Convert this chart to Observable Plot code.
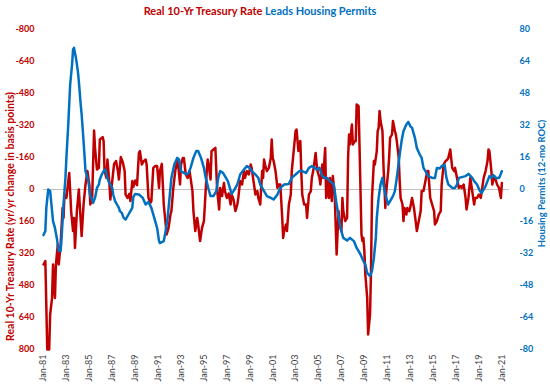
<!DOCTYPE html>
<html><head><meta charset="utf-8">
<script src="https://cdn.jsdelivr.net/npm/d3@7"></script>
<script src="https://cdn.jsdelivr.net/npm/@observablehq/plot@0.6"></script>
<style>
body{margin:0;background:#fff;font-family:Lato,sans-serif;}
#title{height:20px;width:520px;text-align:center;font-weight:bold;font-size:11px;line-height:22px;white-space:nowrap;}
</style></head><body>
<div id="title"><span style="color:#C00000">Real 10-Yr Treasury Rate</span> <span style="color:#0070C0">Leads Housing Permits</span></div>
<div id="chart"></div>
<script>
// [months since Jan-81, yr/yr change in basis points]
const redPoints = [[0,375],[2,358],[4,800],[6,800],[7,625],[9,542],[10,375],[12,542],[13,375],[15,275],[16,375],[18,275],[20,92],[21,142],[22,25],[24,42],[25,0],[27,-83],[28,8],[29,108],[31,208],[32,142],[33,292],[35,108],[37,0],[38,75],[40,233],[42,75],[44,-25],[46,-92],[48,-25],[49,75],[51,42],[53,-295],[54,-208],[56,-100],[58,-108],[59,-250],[62,-262],[63,-242],[64,-92],[66,-58],[67,-150],[69,-33],[70,50],[72,-42],[74,-128],[76,-142],[78,-92],[79,-50],[81,-162],[83,-138],[85,-92],[86,25],[88,42],[90,22],[91,58],[93,-42],[94,-12],[96,-45],[98,-22],[100,-183],[101,-192],[103,-125],[105,-142],[107,-150],[108,-125],[110,42],[112,67],[113,58],[115,-108],[117,-117],[119,-117],[121,-8],[122,-92],[124,-128],[125,-25],[126,75],[128,175],[129,225],[131,192],[133,125],[134,108],[136,-8],[138,-92],[140,-142],[141,-125],[143,-25],[144,-125],[146,-158],[147,-158],[149,-75],[151,-58],[153,-92],[154,-58],[156,8],[157,108],[159,208],[161,142],[162,175],[164,258],[166,192],[168,158],[169,75],[171,-92],[172,-150],[173,-125],[175,-50],[176,-192],[178,-200],[180,-208],[181,-92],[182,8],[184,100],[185,-8],[187,33],[189,-33],[190,8],[192,42],[194,20],[196,75],[197,25],[199,50],[201,108],[203,75],[204,42],[206,-42],[208,-25],[210,-92],[211,-58],[213,-92],[215,-75],[217,-125],[218,-108],[220,-42],[222,25],[224,8],[225,42],[227,75],[229,-92],[230,-58],[231,-150],[232,-125],[234,-92],[236,-108],[238,-158],[239,-250],[240,-158],[241,-142],[243,-92],[245,-8],[246,-25],[248,-25],[250,142],[251,242],[252,208],[254,175],[255,208],[257,75],[259,25],[260,-92],[262,-192],[264,-292],[265,-300],[267,-192],[269,-242],[270,-92],[271,25],[273,75],[275,75],[276,142],[278,25],[280,8],[281,-58],[283,-108],[285,-183],[286,-125],[287,-92],[289,-58],[290,-25],[292,-125],[293,-58],[295,-208],[296,42],[298,-42],[299,42],[300,-58],[302,58],[303,-67],[305,25],[306,175],[307,325],[309,108],[310,175],[312,208],[313,42],[314,108],[316,158],[318,142],[319,-158],[320,-275],[321,-225],[323,-325],[324,-225],[326,-242],[327,-242],[328,-425],[330,-417],[331,-208],[333,225],[334,258],[335,242],[336,308],[337,425],[339,542],[340,725],[342,625],[343,408],[344,42],[346,-142],[347,-125],[349,-192],[350,-292],[351,-308],[352,-392],[353,-342],[355,-292],[356,-125],[358,92],[359,8],[361,-92],[362,-158],[363,-258],[365,-275],[366,-342],[368,-292],[369,-275],[370,-242],[372,-158],[373,-42],[374,42],[376,75],[377,158],[378,92],[380,125],[381,92],[383,108],[384,92],[386,42],[388,92],[390,167],[391,208],[393,158],[395,108],[396,8],[398,8],[400,-42],[402,-92],[403,-92],[405,42],[407,75],[409,108],[410,175],[412,158],[414,125],[416,108],[417,-25],[419,-125],[421,-142],[423,-150],[424,-158],[426,-200],[428,-108],[430,-92],[431,-108],[433,-58],[435,-8],[437,-17],[438,-8],[440,-25],[442,42],[443,100],[445,42],[447,-58],[449,8],[451,75],[452,42],[454,42],[456,25],[458,42],[459,8],[461,-58],[463,-92],[465,-142],[466,-200],[467,-192],[469,-92],[470,-25],[472,-67],[473,-58],[475,-25],[477,-8],[479,42],[480,-33]];

// [months since Jan-81, housing permits 12-mo rate of change]
const bluePoints = [[0,-22.8],[2,-20.8],[3,-9.2],[5,0],[7,-0.8],[9,-10.8],[10,-15.8],[12,-19.2],[14,-24.2],[16,-30.8],[18,-30.8],[19,-24.2],[21,-7.5],[23,5.8],[24,15.8],[26,32.5],[28,52.5],[30,62.5],[31,70],[32,70.8],[34,65.8],[36,59.2],[37,54.2],[39,42.5],[40,37.5],[42,24.2],[44,9.2],[45,7.5],[47,4.2],[49,-3.3],[51,-5],[52,-6.7],[54,-4.2],[56,0.8],[58,2.5],[59,5],[61,7.5],[63,9.2],[65,10],[66,7.5],[68,4.2],[70,2.5],[72,0.8],[73,-2.5],[75,-5.8],[77,-7.5],[79,-9.2],[80,-10.8],[82,-11.7],[84,-14.2],[86,-15],[87,-14.2],[89,-12.5],[91,-10.8],[93,-9.2],[94,-3.8],[96,-2.2],[100,-2.5],[104,-4.2],[107,-7.5],[110,-6.2],[113,-9.2],[116,-14.2],[119,-19.2],[121,-25.8],[122,-26.8],[126,-25.8],[128,-20.8],[130,-14.2],[132,-4.2],[134,5.8],[137,12.5],[140,15.8],[142,15],[144,9.2],[147,8.3],[150,7.5],[152,8.3],[154,10.8],[157,15.8],[160,19.2],[162,19.2],[165,15.8],[168,10.8],[170,5.8],[173,0],[175,-3.3],[178,-3.3],[181,-0.8],[183,5.8],[185,9.2],[188,8.3],[190,6.7],[193,4.2],[196,-0.5],[197,-2.2],[199,-0.8],[203,2.5],[206,7.5],[210,10],[213,11.7],[216,10.8],[218,9.2],[222,7.5],[225,5.8],[227,2.5],[231,-0.8],[234,-3.3],[238,-4.2],[241,-5],[245,-2.5],[248,0.8],[252,2.5],[257,2.8],[260,5.8],[264,7.5],[268,9.2],[271,9.2],[275,8.3],[278,10.8],[281,11.7],[284,10.8],[286,10],[289,10.8],[292,6.7],[295,5.8],[297,5.8],[300,4.2],[304,2.5],[307,-7.5],[311,-19.2],[314,-24.2],[318,-25.5],[321,-24.2],[325,-25.8],[328,-29.2],[332,-32.5],[335,-35.8],[337,-37.5],[339,-41.7],[342,-43.3],[344,-40.8],[346,-34.2],[348,-24.2],[349,-14.2],[351,-4.2],[353,2.5],[355,5.8],[356,2.5],[358,-2.5],[361,-7.5],[363,-5.8],[366,-3.3],[368,-0.8],[370,5.8],[373,17.5],[375,24.2],[377,29.2],[380,32.5],[382,33.8],[384,31.7],[386,30.8],[389,25.8],[391,20.8],[394,17.5],[396,15.8],[398,10.8],[400,9.2],[402,7.5],[403,6.7],[407,5.8],[410,5.8],[412,10.8],[415,10.5],[417,11.7],[420,12.5],[422,5.8],[424,2.5],[426,1.7],[428,0.8],[431,0.8],[433,2.5],[435,5.8],[438,6.2],[442,6.7],[445,7.8],[449,5.8],[451,4.2],[454,2.5],[457,-0.8],[459,-1.7],[460,-0.8],[463,1.7],[465,4.2],[467,6.7],[469,5.8],[471,7.2],[474,5.8],[477,5.8],[478,6.7],[480,9.2]];

const leftTicks = [-800,-640,-480,-320,-160,0,160,320,480,640,800];
const rightTicks = [80,64,48,32,16,0,-16,-32,-48,-64,-80];
const xTickYears = [1981,1983,1985,1987,1989,1991,1993,1995,1997,1999,2001,2003,2005,2007,2009,2011,2013,2015,2017,2019,2021];
const leftTitle = "Real 10-Yr Treasury Rate (yr/yr change in basis points)";
const rightTitle = "Housing Permits (12-mo ROC)";

const RED = "#C00000", BLUE = "#0070C0";
const mDate = m => new Date(1981, m, 1);
const RATIO = 10; // left units per right unit (inverted)

const chart = Plot.plot({
  width: 550, height: 366,
  marginTop: 9, marginBottom: 37, marginLeft: 43, marginRight: 41,
  style: {fontFamily: "Lato, sans-serif", background: "#fff"},
  x: {type: "time", domain: [mDate(0), mDate(488)]},
  y: {domain: [-800, 800], reverse: true},
  marks: [
    Plot.ruleY([0], {stroke: "#bfbfbf", strokeWidth: 1}),
    Plot.lineY(redPoints, {x: d => mDate(d[0]), y: d => d[1], stroke: RED, strokeWidth: 2.5, strokeLinejoin: "round"}),
    Plot.lineY(bluePoints, {x: d => mDate(d[0]), y: d => -RATIO * d[1], stroke: BLUE, strokeWidth: 2.5, strokeLinejoin: "round"}),
    Plot.axisY(leftTicks, {anchor: "left", tickSize: 0, tickPadding: 9, tickFormat: d => String(d), fill: RED, fontWeight: "bold", fontSize: 9, label: null}),
    Plot.axisY(rightTicks.map(v => -RATIO * v), {anchor: "right", tickSize: 0, tickPadding: 10, tickFormat: d => String(-d / RATIO + 0), fill: BLUE, fontWeight: "bold", fontSize: 9, label: null}),
    Plot.axisX(xTickYears.map(y => new Date(y, 0, 1)), {anchor: "bottom", tickSize: 0, tickPadding: 5, tickRotate: -90, tickFormat: d => "Jan-" + String(d.getFullYear()).slice(2), fill: "#404040", fontSize: 9, label: null}),
    Plot.text([leftTitle], {frameAnchor: "left", textAnchor: "middle", rotate: -90, dx: -33, dy: 27, fill: RED, fontWeight: "bold", fontSize: 10.5}),
    Plot.text([rightTitle], {frameAnchor: "right", textAnchor: "middle", rotate: -90, dx: 32, dy: -6, fill: BLUE, fontWeight: "bold", fontSize: 9.5})
  ]
});
document.getElementById("chart").appendChild(chart);
</script>
</body></html>
